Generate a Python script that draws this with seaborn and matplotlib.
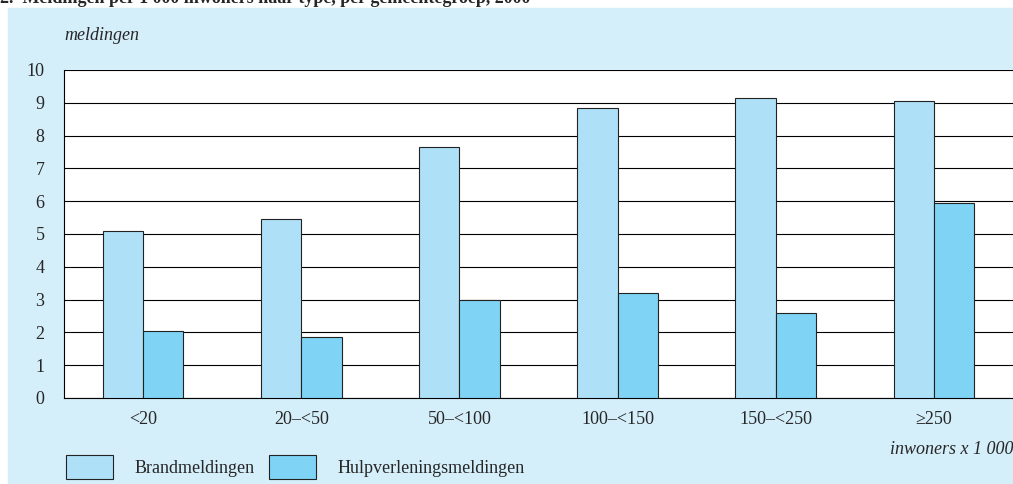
import pandas as pd
import matplotlib.pyplot as plt
import seaborn as sns
from matplotlib.patches import Rectangle, Patch

categories = ['<20', '20–<50', '50–<100', '100–<150', '150–<250', '≥250']
brand = [5.1, 5.45, 7.65, 8.85, 9.15, 9.05]
hulp = [2.05, 1.85, 3.0, 3.2, 2.6, 5.95]
series = ['Brandmeldingen', 'Hulpverleningsmeldingen']
colors = ['#aee0f8', '#7fd3f5']
panel = '#d4eefa'

df = pd.DataFrame({'groep': categories * 2,
                   'waarde': brand + hulp,
                   'type': [series[0]] * 6 + [series[1]] * 6})

sns.set_style('white')
plt.rcParams['font.family'] = ['Liberation Serif', 'DejaVu Serif']

fig = plt.figure(figsize=(10.13, 4.84), dpi=100)
fig.patches.append(Rectangle((8 / 1013, 0), 1, 1 - 8 / 484, transform=fig.transFigure,
                             color=panel, zorder=-10))
# title is cut at the top edge in the reference
fig.text(0.0, 1.003, '2.  Meldingen per 1 000 inwoners naar type, per gemeentegroep, 2000',
         fontsize=13, fontweight='bold', va='center', ha='left')

ax = fig.add_axes([64 / 1013, 1 - 398 / 484, 1 - 64 / 1013, (398 - 70) / 484])
ax.set_zorder(1)
sns.barplot(data=df, x='groep', y='waarde', hue='type', palette=colors, width=0.51,
            saturation=1, edgecolor='#222222', linewidth=0.8, ax=ax, legend=False,
            zorder=3)
ax.set_ylim(0, 10)
ax.set_yticks(range(11))
ax.yaxis.grid(True, color='black', linewidth=0.8, zorder=0)
ax.set_axisbelow(True)
ax.set_xlabel('')
ax.set_ylabel('')
for s in ['top', 'right']:
    ax.spines[s].set_visible(False)
for s in ['left', 'bottom']:
    ax.spines[s].set_color('black')
    ax.spines[s].set_linewidth(0.8)
ax.tick_params(axis='both', length=0, labelsize=13)
ax.tick_params(axis='x', pad=9)
ax.tick_params(axis='y', pad=14)
ax.set_xlim(-0.5, 5.5)

fig.text(64 / 1013, 1 - 35 / 484, 'meldingen', fontsize=13, style='italic', va='center')
fig.text(1.0, 1 - 449 / 484, 'inwoners x 1 000', fontsize=13, style='italic',
         va='center', ha='right')
handles = [Patch(facecolor=c, edgecolor='#222222', linewidth=0.8) for c in colors]
fig.legend(handles, series, loc='center left', bbox_to_anchor=(66 / 1013, 1 - 467 / 484),
           ncol=2, frameon=False, fontsize=13, handlelength=2.6, handleheight=1.6,
           columnspacing=0.8, handletextpad=1.2, borderpad=0, borderaxespad=0)

fig.savefig('out.png', dpi=100, facecolor='white')
